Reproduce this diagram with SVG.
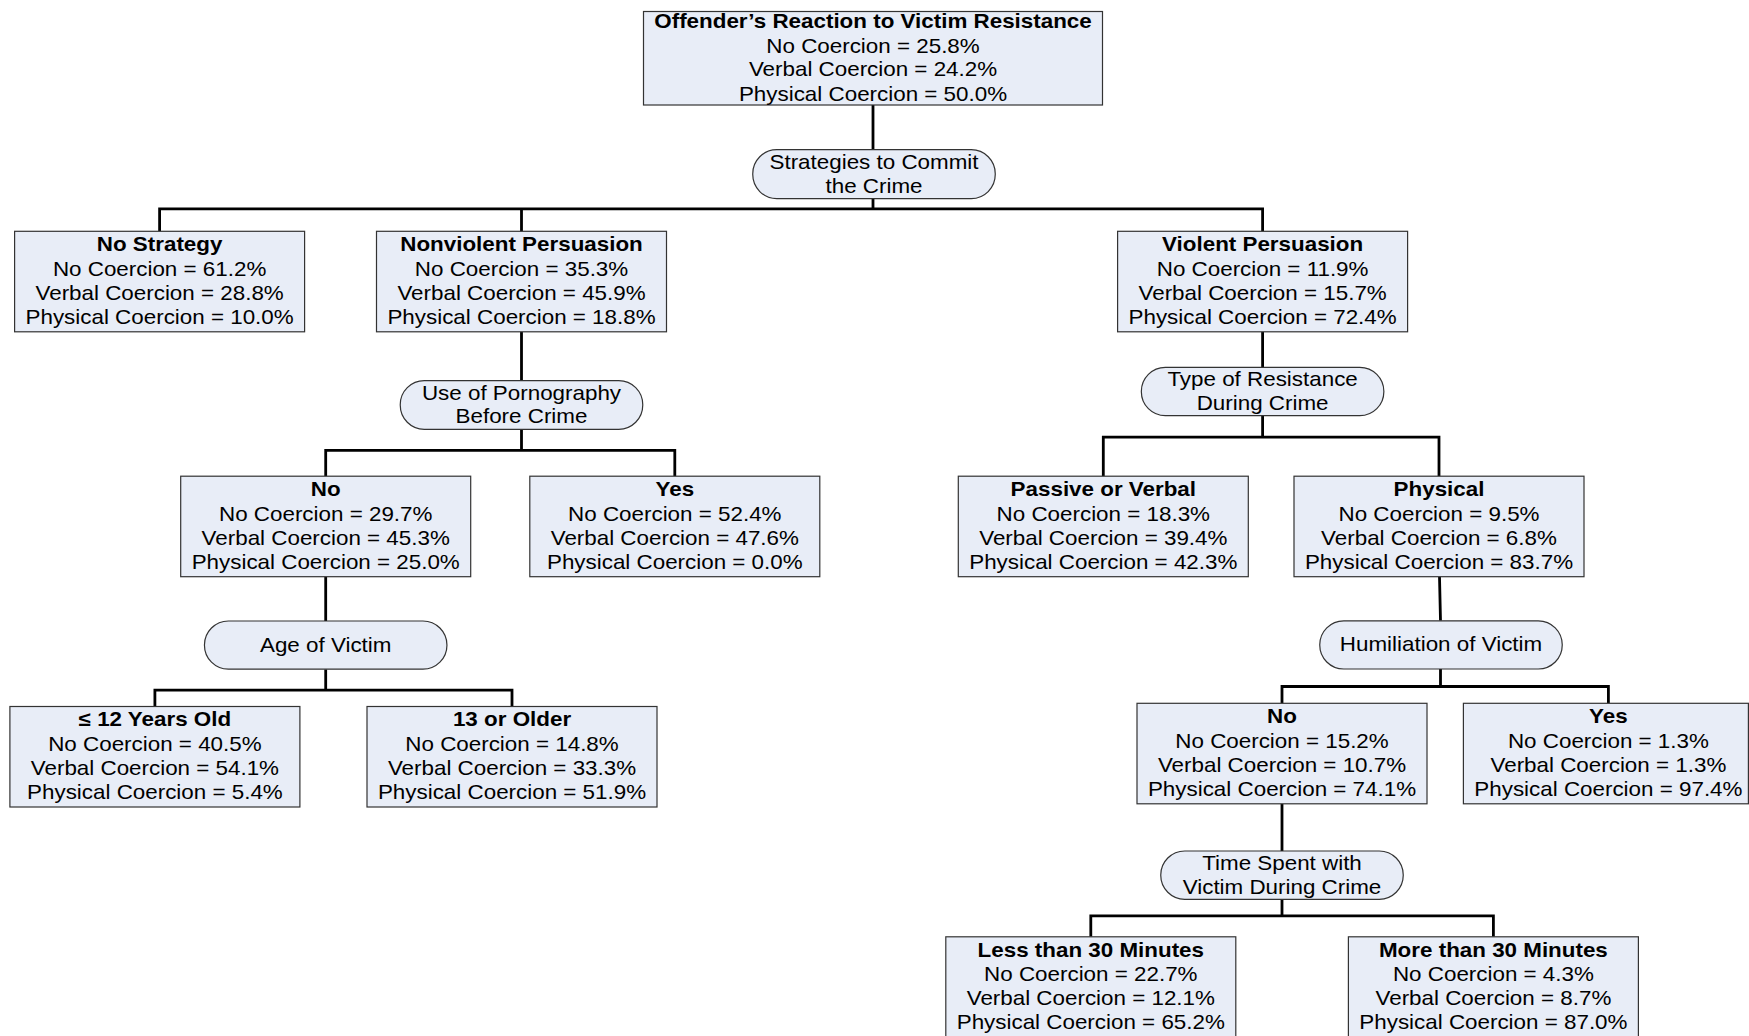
<svg xmlns="http://www.w3.org/2000/svg" width="1749" height="1036" viewBox="0 0 1749 1036">
<style>
.box{fill:#E8EDF7;stroke:#333;stroke-width:1.2}
.t{font-family:"Liberation Sans",Arial,sans-serif;font-size:20px;text-anchor:middle;fill:#000}
.b{font-weight:bold}
.c{fill:none;stroke:#000;stroke-width:2.8}
</style>
<rect x="0" y="0" width="1749" height="1036" fill="#fff"/>
<g id="connectors">
<path class="c" d="M873,105 V149.7 M873,198.6 V208.8 M159.6,231.3 V208.8 H1262.6 V231.3 M521.5,208.8 V231.3"/>
<path class="c" d="M521.5,331.8 V380.6 M521.5,429.3 V450.3 M325.7,476.2 V450.3 H674.8 V476.2"/>
<path class="c" d="M325.7,576.7 V621 M325.7,669.2 V690.2 M154.9,706.5 V690.2 H512 V706.5"/>
<path class="c" d="M1262.6,331.8 V367.3 M1262.6,415.7 V437.2 M1103.3,476.2 V437.2 H1439 V476.2"/>
<path class="c" d="M1439.5,576.7 L1440.5,620.8 M1440.5,669 V686.5 M1282,703.3 V686.5 H1608.4 V703.3"/>
<path class="c" d="M1282,803.8 V851 M1282,899.3 V915.8 M1090.8,936.8 V915.8 H1493.4 V936.8"/>
</g>
<g id="n-root">
<rect class="box" x="643.5" y="11.5" width="459" height="93.5"/>
<g transform="translate(873,0) scale(1.12,1)">
<text class="t b" y="28.4">Offender’s Reaction to Victim Resistance</text>
<text class="t" y="52.9">No Coercion = 25.8%</text>
<text class="t" y="76.4">Verbal Coercion = 24.2%</text>
<text class="t" y="100.6">Physical Coercion = 50.0%</text>
</g></g>
<g id="q-strategies">
<rect class="box" x="752.75" y="149.7" width="242.5" height="48.9" rx="24" ry="24"/>
<g transform="translate(874,0) scale(1.12,1)">
<text class="t" y="169.2">Strategies to Commit</text>
<text class="t" y="192.7">the Crime</text>
</g></g>
<g id="n-nostrategy">
<rect class="box" x="14.6" y="231.3" width="290" height="100.5"/>
<g transform="translate(159.6,0) scale(1.12,1)">
<text class="t b" y="251.3">No Strategy</text>
<text class="t" y="275.8">No Coercion = 61.2%</text>
<text class="t" y="299.8">Verbal Coercion = 28.8%</text>
<text class="t" y="323.8">Physical Coercion = 10.0%</text>
</g></g>
<g id="n-nonviolent">
<rect class="box" x="376.5" y="231.3" width="290" height="100.5"/>
<g transform="translate(521.5,0) scale(1.12,1)">
<text class="t b" y="251.3">Nonviolent Persuasion</text>
<text class="t" y="275.8">No Coercion = 35.3%</text>
<text class="t" y="299.8">Verbal Coercion = 45.9%</text>
<text class="t" y="323.8">Physical Coercion = 18.8%</text>
</g></g>
<g id="n-violent">
<rect class="box" x="1117.6" y="231.3" width="290" height="100.5"/>
<g transform="translate(1262.6,0) scale(1.12,1)">
<text class="t b" y="251.3">Violent Persuasion</text>
<text class="t" y="275.8">No Coercion = 11.9%</text>
<text class="t" y="299.8">Verbal Coercion = 15.7%</text>
<text class="t" y="323.8">Physical Coercion = 72.4%</text>
</g></g>
<g id="q-porn">
<rect class="box" x="400.25" y="380.6" width="242.5" height="48.7" rx="24" ry="24"/>
<g transform="translate(521.5,0) scale(1.12,1)">
<text class="t" y="400">Use of Pornography</text>
<text class="t" y="423.5">Before Crime</text>
</g></g>
<g id="q-resistance">
<rect class="box" x="1141.35" y="367.3" width="242.5" height="48.4" rx="24" ry="24"/>
<g transform="translate(1262.6,0) scale(1.12,1)">
<text class="t" y="386.5">Type of Resistance</text>
<text class="t" y="410">During Crime</text>
</g></g>
<g id="n-porn-no">
<rect class="box" x="180.7" y="476.2" width="290" height="100.5"/>
<g transform="translate(325.7,0) scale(1.12,1)">
<text class="t b" y="496.2">No</text>
<text class="t" y="520.7">No Coercion = 29.7%</text>
<text class="t" y="544.7">Verbal Coercion = 45.3%</text>
<text class="t" y="568.7">Physical Coercion = 25.0%</text>
</g></g>
<g id="n-porn-yes">
<rect class="box" x="529.8" y="476.2" width="290" height="100.5"/>
<g transform="translate(674.8,0) scale(1.12,1)">
<text class="t b" y="496.2">Yes</text>
<text class="t" y="520.7">No Coercion = 52.4%</text>
<text class="t" y="544.7">Verbal Coercion = 47.6%</text>
<text class="t" y="568.7">Physical Coercion = 0.0%</text>
</g></g>
<g id="n-passive">
<rect class="box" x="958.3" y="476.2" width="290" height="100.5"/>
<g transform="translate(1103.3,0) scale(1.12,1)">
<text class="t b" y="496.2">Passive or Verbal</text>
<text class="t" y="520.7">No Coercion = 18.3%</text>
<text class="t" y="544.7">Verbal Coercion = 39.4%</text>
<text class="t" y="568.7">Physical Coercion = 42.3%</text>
</g></g>
<g id="n-physical">
<rect class="box" x="1294" y="476.2" width="290" height="100.5"/>
<g transform="translate(1439,0) scale(1.12,1)">
<text class="t b" y="496.2">Physical</text>
<text class="t" y="520.7">No Coercion = 9.5%</text>
<text class="t" y="544.7">Verbal Coercion = 6.8%</text>
<text class="t" y="568.7">Physical Coercion = 83.7%</text>
</g></g>
<g id="q-age">
<rect class="box" x="204.45" y="621" width="242.5" height="48.2" rx="24" ry="24"/>
<g transform="translate(325.7,0) scale(1.12,1)">
<text class="t" y="651.6">Age of Victim</text>
</g></g>
<g id="q-humiliation">
<rect class="box" x="1319.75" y="620.8" width="242.5" height="48.2" rx="24" ry="24"/>
<g transform="translate(1441,0) scale(1.12,1)">
<text class="t" y="651.4">Humiliation of Victim</text>
</g></g>
<g id="n-age-12">
<rect class="box" x="9.9" y="706.5" width="290" height="100.5"/>
<g transform="translate(154.9,0) scale(1.12,1)">
<text class="t b" y="726.5">≤ 12 Years Old</text>
<text class="t" y="751">No Coercion = 40.5%</text>
<text class="t" y="775">Verbal Coercion = 54.1%</text>
<text class="t" y="799">Physical Coercion = 5.4%</text>
</g></g>
<g id="n-age-13">
<rect class="box" x="367" y="706.5" width="290" height="100.5"/>
<g transform="translate(512,0) scale(1.12,1)">
<text class="t b" y="726.5">13 or Older</text>
<text class="t" y="751">No Coercion = 14.8%</text>
<text class="t" y="775">Verbal Coercion = 33.3%</text>
<text class="t" y="799">Physical Coercion = 51.9%</text>
</g></g>
<g id="n-hum-no">
<rect class="box" x="1137" y="703.3" width="290" height="100.5"/>
<g transform="translate(1282,0) scale(1.12,1)">
<text class="t b" y="723.3">No</text>
<text class="t" y="747.8">No Coercion = 15.2%</text>
<text class="t" y="771.8">Verbal Coercion = 10.7%</text>
<text class="t" y="795.8">Physical Coercion = 74.1%</text>
</g></g>
<g id="n-hum-yes">
<rect class="box" x="1463.4" y="703.3" width="285" height="100.5"/>
<g transform="translate(1608.4,0) scale(1.12,1)">
<text class="t b" y="723.3">Yes</text>
<text class="t" y="747.8">No Coercion = 1.3%</text>
<text class="t" y="771.8">Verbal Coercion = 1.3%</text>
<text class="t" y="795.8">Physical Coercion = 97.4%</text>
</g></g>
<g id="q-time">
<rect class="box" x="1160.75" y="851" width="242.5" height="48.3" rx="24" ry="24"/>
<g transform="translate(1282,0) scale(1.12,1)">
<text class="t" y="870.2">Time Spent with</text>
<text class="t" y="893.7">Victim During Crime</text>
</g></g>
<g id="n-less30">
<rect class="box" x="945.8" y="936.8" width="290" height="100.5"/>
<g transform="translate(1090.8,0) scale(1.12,1)">
<text class="t b" y="956.8">Less than 30 Minutes</text>
<text class="t" y="981.3">No Coercion = 22.7%</text>
<text class="t" y="1005.3">Verbal Coercion = 12.1%</text>
<text class="t" y="1029.3">Physical Coercion = 65.2%</text>
</g></g>
<g id="n-more30">
<rect class="box" x="1348.4" y="936.8" width="290" height="100.5"/>
<g transform="translate(1493.4,0) scale(1.12,1)">
<text class="t b" y="956.8">More than 30 Minutes</text>
<text class="t" y="981.3">No Coercion = 4.3%</text>
<text class="t" y="1005.3">Verbal Coercion = 8.7%</text>
<text class="t" y="1029.3">Physical Coercion = 87.0%</text>
</g></g>
</svg>
